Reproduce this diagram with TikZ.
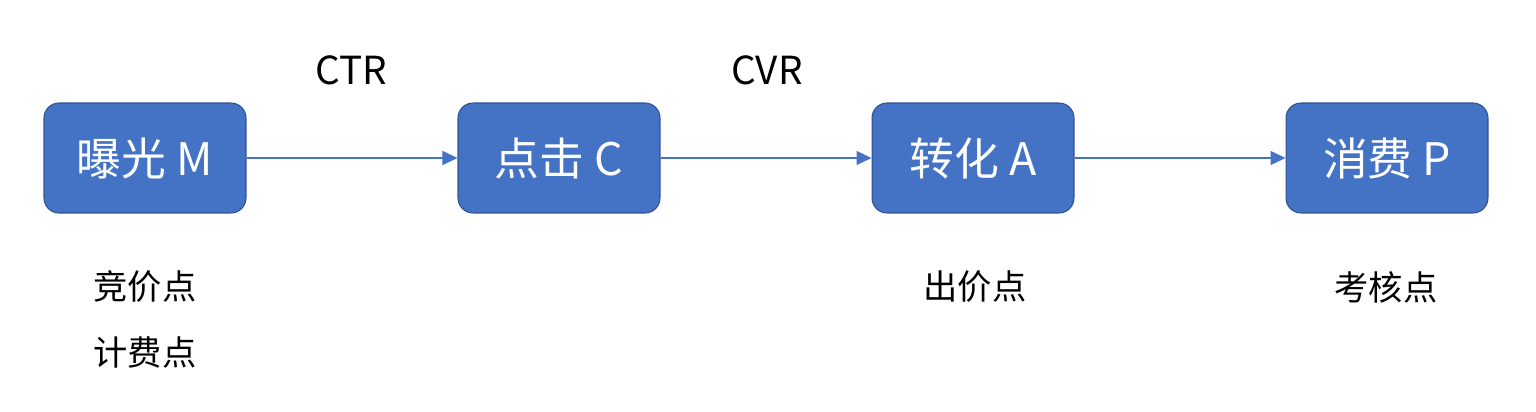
\documentclass[tikz,border=0pt]{standalone}
\usepackage{fontspec}
\setmainfont{Noto Sans CJK SC}
\usepackage{tikz}
\usetikzlibrary{arrows.meta}
\definecolor{boxblue}{HTML}{4472C4}
\definecolor{boxline}{HTML}{2F528F}

\begin{document}
\begin{tikzpicture}[x=0.02cm,y=-0.02cm,
	stage_node/.style={rectangle,rounded corners=0.3cm,fill=boxblue,draw=boxline,line width=0.6pt,minimum width=4.04cm,minimum height=2.2cm,text=white,font=\fontsize{25.5}{30}\selectfont},
	rate_label/.style={font=\fontsize{22}{26}\selectfont},
	note_label/.style={font=\fontsize{19.5}{23}\selectfont},
	flow/.style={draw=boxblue,line width=0.8pt,-{Triangle[length=0.3cm,width=0.28cm,fill=boxblue]}}]
	\useasboundingbox (0,0) rectangle (1536,412);
	\node[stage_node](M) at (145,158){曝光 M};
	\node[stage_node](C) at (559,158){点击 C};
	\node[stage_node](A) at (973,158){转化 A};
	\node[stage_node](P) at (1387,158){消费 P};
	\path[flow]
	(M) edge (C)
	(C) edge (A)
	(A) edge (P);
	\node[rate_label](ctr) at (351,70){CTR};
	\node[rate_label](cvr) at (767,70){CVR};
	\node[note_label](bid) at (145,287){竞价点};
	\node[note_label](fee) at (145,352){计费点};
	\node[note_label](price) at (975,287){出价点};
	\node[note_label](check) at (1386,287){考核点};
\end{tikzpicture}
\end{document}
